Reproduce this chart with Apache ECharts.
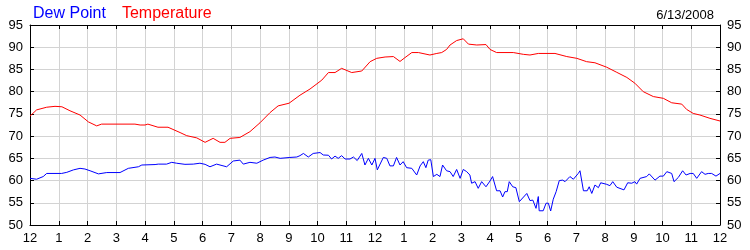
<!DOCTYPE html>
<html>
<head>
<meta charset="utf-8">
<script src="https://cdn.jsdelivr.net/npm/echarts@6/dist/echarts.min.js"></script>
<style>html,body{margin:0;padding:0;background:#fff}#c{width:750px;height:250px}</style>
</head>
<body>
<div id="c"></div>
<script>
// Hours since midnight
var hourTicks = [0,1,2,3,4,5,6,7,8,9,10,11,12,13,14,15,16,17,18,19,20,21,22,23,24];
var hourLabels = ['12','1','2','3','4','5','6','7','8','9','10','11','12','1','2','3','4','5','6','7','8','9','10','11','12'];
var yTicks = [50,55,60,65,70,75,80,85,90,95];

var tempTimes = [0.00,0.23,0.58,0.87,1.11,1.39,1.74,2.03,2.32,2.49,3.65,3.83,4.00,4.10,4.45,4.80,5.22,5.45,5.80,6.09,6.37,6.61,6.78,6.96,7.30,7.65,8.00,8.35,8.63,9.01,9.39,9.74,10.15,10.38,10.61,10.84,11.19,11.54,11.83,12.06,12.35,12.64,12.87,13.04,13.28,13.51,13.91,14.15,14.32,14.49,14.61,14.84,15.07,15.25,15.54,15.86,16.00,16.23,16.81,17.16,17.39,17.68,18.26,18.67,19.02,19.36,19.65,20.06,20.41,20.76,21.04,21.33,21.68,22.03,22.32,22.67,22.84,23.07,23.30,23.65,24.00];
var tempValues = [74.5,75.9,76.5,76.7,76.6,75.7,74.75,73.2,72.3,72.7,72.7,72.5,72.5,72.7,72.0,72.0,70.8,70.1,69.6,68.6,69.5,68.6,68.6,69.5,69.7,71.0,73.0,75.3,76.8,77.4,79.2,80.6,82.6,84.3,84.3,85.25,84.3,84.65,86.75,87.5,87.8,87.9,86.8,87.65,88.8,88.8,88.25,88.6,88.8,89.5,90.5,91.5,91.9,90.7,90.5,90.6,89.5,88.8,88.8,88.4,88.25,88.6,88.6,87.9,87.5,86.75,86.5,85.5,84.35,83.2,81.9,80.0,78.9,78.5,77.5,77.2,76.0,75.1,74.75,74.0,73.4];

var dewTimes = [0.00,0.23,0.46,0.58,1.10,1.28,1.51,1.74,1.91,2.09,2.38,2.67,3.13,3.42,3.77,3.89,4.35,4.46,4.75,4.93,5.10,5.39,5.68,5.91,6.09,6.26,6.49,6.84,7.07,7.30,7.42,7.65,7.89,8.11,8.35,8.52,8.70,9.04,9.28,9.39,9.51,9.68,9.85,10.09,10.20,10.38,10.49,10.61,10.72,10.84,10.96,11.13,11.25,11.38,11.54,11.65,11.77,11.89,12.00,12.08,12.29,12.41,12.52,12.64,12.75,12.87,12.98,13.10,13.28,13.45,13.57,13.68,13.77,13.85,13.94,14.03,14.15,14.26,14.35,14.49,14.61,14.72,14.84,14.96,15.07,15.19,15.30,15.36,15.48,15.59,15.71,15.86,16.00,16.09,16.23,16.35,16.44,16.52,16.60,16.67,16.79,16.90,17.02,17.28,17.39,17.49,17.60,17.68,17.71,17.85,17.95,18.03,18.11,18.20,18.30,18.41,18.53,18.61,18.78,18.90,19.07,19.13,19.25,19.38,19.45,19.54,19.65,19.77,19.85,20.06,20.17,20.27,20.41,20.66,20.79,20.93,21.04,21.10,21.22,21.45,21.54,21.74,21.91,22.03,22.15,22.32,22.40,22.55,22.70,22.82,22.96,23.07,23.19,23.36,23.48,23.59,23.71,23.86,24.00];
var dewValues = [60.5,60.3,60.9,61.6,61.6,61.85,62.4,62.75,62.6,62.2,61.5,61.8,61.8,62.75,63.1,63.5,63.6,63.7,63.7,64.1,63.9,63.65,63.7,63.9,63.65,63.1,63.7,63.1,64.4,64.6,63.7,64.1,63.9,64.6,65.2,65.3,65.0,65.2,65.3,65.6,66.1,65.3,66.1,66.3,65.75,65.7,64.85,65.5,65.0,65.6,64.85,64.85,65.3,64.5,66.1,63.5,65.0,63.5,65.0,62.4,65.2,65.0,63.3,63.3,65.2,63.5,64.25,62.9,62.75,61.25,63.3,64.25,62.9,64.6,64.7,60.9,61.4,60.9,63.5,62.2,62.0,60.9,62.5,60.5,62.5,62.0,61.25,59.4,59.75,58.25,59.75,58.6,59.9,60.9,57.7,57.7,56.3,57.5,57.5,59.75,58.6,58.4,55.25,57.1,55.5,55.6,53.75,56.4,53.2,53.2,54.9,54.9,53.15,55.8,57.5,60.0,60.1,59.75,60.9,60.3,61.6,62.2,57.7,57.7,58.6,57.1,59.0,58.4,59.5,59.15,58.85,59.75,58.5,57.9,59.5,59.4,59.75,59.2,60.5,60.9,61.5,60.1,61.0,61.0,62.0,61.6,59.75,60.7,62.2,61.25,61.6,61.6,60.5,62.0,61.4,61.6,61.6,61.0,61.6];

var legendNames = ['Dew Point','Temperature'];
var dateText = '6/13/2008';

function pairs(t, v){ return t.map(function(x,i){ return [x, v[i]]; }); }

var FONT = '"Liberation Sans", Arial, sans-serif';
var chart = echarts.init(document.getElementById('c'), null, {renderer:'canvas'});
var xCommon = {
  type:'value', min:hourTicks[0], max:hourTicks[hourTicks.length-1], interval:1
};
var yCommon = {
  type:'value', min:yTicks[0], max:yTicks[yTicks.length-1], interval:5
};
chart.setOption({
  animation:false,
  backgroundColor:'#fff',
  title:{
    text:dateText, right:31, top:4,
    textStyle:{fontFamily:FONT, fontSize:13, fontWeight:'normal', color:'#000'}
  },
  legend:{
    left:28, top:1, itemWidth:0, itemHeight:0, itemGap:16, selectedMode:false,
    icon:'rect',
    data:[
      {name:legendNames[0], textStyle:{color:'#0000ff'}},
      {name:legendNames[1], textStyle:{color:'#ff0000'}}
    ],
    textStyle:{fontFamily:FONT, fontSize:16, padding:[0,0,0,-5]}
  },
  grid:{left:30, right:30, top:25, bottom:25, show:false},
  xAxis:[
    Object.assign({}, xCommon, {
      position:'bottom',
      axisLine:{show:true, lineStyle:{color:'#000', width:1}},
      axisTick:{show:true, inside:true, length:4, lineStyle:{color:'#000'}},
      axisLabel:{show:true, margin:7, color:'#000', fontFamily:FONT, fontSize:13,
        formatter:function(v){ var i = hourTicks.indexOf(v); return i>=0 ? hourLabels[i] : ''; }},
      splitLine:{show:true, lineStyle:{color:'#d3d3d3', width:1}}
    }),
    Object.assign({}, xCommon, {
      position:'top',
      axisLine:{show:true, onZero:false, lineStyle:{color:'#000', width:1}},
      axisTick:{show:true, inside:true, length:4, lineStyle:{color:'#000'}},
      axisLabel:{show:false},
      splitLine:{show:false}
    })
  ],
  yAxis:[
    Object.assign({}, yCommon, {
      position:'left',
      axisLine:{show:true, onZero:false, lineStyle:{color:'#000', width:1}},
      axisTick:{show:true, inside:true, length:4, lineStyle:{color:'#000'}},
      axisLabel:{show:true, margin:7, color:'#000', fontFamily:FONT, fontSize:13},
      splitLine:{show:true, lineStyle:{color:'#d3d3d3', width:1}}
    }),
    Object.assign({}, yCommon, {
      position:'right',
      axisLine:{show:true, onZero:false, lineStyle:{color:'#000', width:1}},
      axisTick:{show:true, inside:true, length:4, lineStyle:{color:'#000'}},
      axisLabel:{show:true, margin:7, color:'#000', fontFamily:FONT, fontSize:13},
      splitLine:{show:false}
    })
  ],
  series:[
    {name:legendNames[0], type:'line', data:pairs(dewTimes, dewValues), showSymbol:false,
     lineStyle:{color:'#0000ff', width:1}, itemStyle:{color:'#0000ff'}, z:3},
    {name:legendNames[1], type:'line', data:pairs(tempTimes, tempValues), showSymbol:false,
     lineStyle:{color:'#ff0000', width:1}, itemStyle:{color:'#ff0000'}, z:3}
  ]
});
</script>
</body>
</html>
